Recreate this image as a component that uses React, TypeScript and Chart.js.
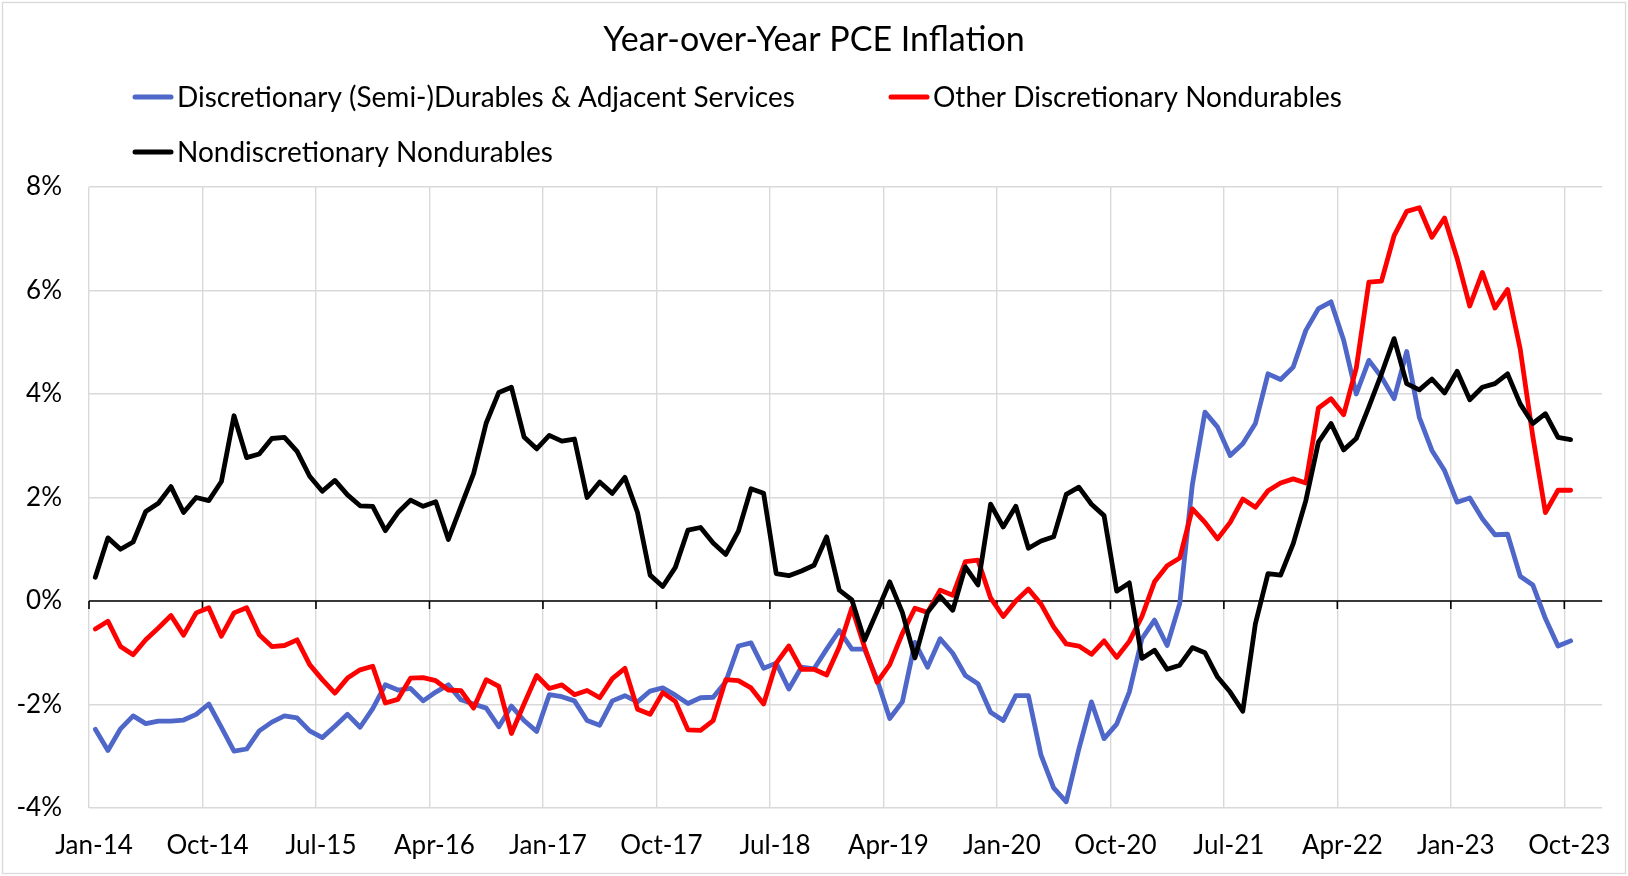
import React, { useEffect, useRef } from "react";
import { Chart, registerables } from "chart.js";

Chart.register(...registerables);

// monthly categories Jan-14 .. Oct-23
const monthNames = ["Jan", "Feb", "Mar", "Apr", "May", "Jun", "Jul", "Aug", "Sep", "Oct", "Nov", "Dec"];
const months: string[] = [];
for (let y = 14; y <= 23; y++) {
  for (let m = 0; m < 12; m++) {
    if (y === 23 && m > 9) break;
    months.push(`${monthNames[m]}-${y}`);
  }
}

const tickLabels = ["Jan-14", "Oct-14", "Jul-15", "Apr-16", "Jan-17", "Oct-17", "Jul-18", "Apr-19", "Jan-20", "Oct-20", "Jul-21", "Apr-22", "Jan-23", "Oct-23"];

const seriesNames = [
  "Discretionary (Semi-)Durables & Adjacent Services",
  "Other Discretionary Nondurables",
  "Nondiscretionary Nondurables",
];

const discDurables = [
  -2.48, -2.89, -2.47, -2.22, -2.37, -2.32, -2.32, -2.30, -2.19, -1.99, -2.44, -2.90,
  -2.86, -2.51, -2.34, -2.22, -2.26, -2.51, -2.64, -2.42, -2.19, -2.44, -2.08, -1.62,
  -1.72, -1.69, -1.93, -1.76, -1.62, -1.91, -1.99, -2.07, -2.43, -2.03, -2.31, -2.52,
  -1.81, -1.85, -1.93, -2.31, -2.40, -1.93, -1.83, -1.95, -1.74, -1.68, -1.82, -1.98,
  -1.87, -1.86, -1.56, -0.87, -0.81, -1.30, -1.20, -1.70, -1.28, -1.31, -0.93, -0.57,
  -0.93, -0.93, -1.52, -2.27, -1.95, -0.80, -1.28, -0.73, -1.01, -1.44, -1.60, -2.15,
  -2.31, -1.83, -1.83, -2.98, -3.61, -3.88, -2.86, -1.95, -2.66, -2.38, -1.76, -0.73,
  -0.37, -0.86, -0.05, 2.25, 3.65, 3.36, 2.81, 3.04, 3.43, 4.39, 4.28, 4.52,
  5.23, 5.65, 5.78, 5.04, 4.0, 4.65, 4.33, 3.91, 4.82, 3.55, 2.91, 2.52,
  1.91, 1.99, 1.59, 1.28, 1.29, 0.48, 0.31, -0.34, -0.87, -0.77,
];

const otherDisc = [
  -0.54, -0.39, -0.88, -1.04, -0.75, -0.52, -0.28, -0.66, -0.23, -0.13, -0.68, -0.23,
  -0.13, -0.65, -0.88, -0.86, -0.75, -1.23, -1.52, -1.78, -1.49, -1.33, -1.26, -1.97,
  -1.90, -1.49, -1.48, -1.54, -1.72, -1.73, -2.07, -1.52, -1.65, -2.56, -1.99, -1.44,
  -1.69, -1.62, -1.81, -1.73, -1.87, -1.50, -1.30, -2.09, -2.19, -1.77, -1.94, -2.49,
  -2.50, -2.31, -1.52, -1.54, -1.68, -1.99, -1.20, -0.87, -1.32, -1.32, -1.43, -0.89,
  -0.13, -0.89, -1.57, -1.23, -0.63, -0.14, -0.22, 0.21, 0.11, 0.76, 0.79, 0.06,
  -0.30, 0.0, 0.23, -0.06, -0.50, -0.83, -0.87, -1.03, -0.77, -1.09, -0.78, -0.30,
  0.37, 0.68, 0.83, 1.78, 1.52, 1.20, 1.52, 1.97, 1.81, 2.13, 2.28, 2.36,
  2.28, 3.73, 3.91, 3.60, 4.5, 6.16, 6.18, 7.06, 7.53, 7.60, 7.03, 7.40,
  6.62, 5.70, 6.35, 5.66, 6.02, 4.87, 3.18, 1.71, 2.14, 2.14,
];

const nondiscNondurables = [
  0.46, 1.22, 1.00, 1.14, 1.73, 1.89, 2.21, 1.71, 2.00, 1.94, 2.31, 3.58,
  2.77, 2.84, 3.14, 3.16, 2.89, 2.41, 2.12, 2.33, 2.05, 1.84, 1.83, 1.36,
  1.71, 1.95, 1.83, 1.92, 1.19, 1.83, 2.46, 3.44, 4.03, 4.13, 3.17, 2.94,
  3.20, 3.09, 3.13, 2.00, 2.30, 2.08, 2.39, 1.71, 0.50, 0.28, 0.65, 1.37,
  1.42, 1.12, 0.90, 1.35, 2.17, 2.08, 0.53, 0.49, 0.58, 0.69, 1.24, 0.21,
  0.02, -0.76, -0.20, 0.37, -0.22, -1.10, -0.22, 0.09, -0.18, 0.66, 0.31, 1.87,
  1.43, 1.83, 1.02, 1.16, 1.24, 2.06, 2.20, 1.87, 1.65, 0.19, 0.35, -1.11,
  -0.95, -1.32, -1.24, -0.90, -1.00, -1.47, -1.76, -2.13, -0.44, 0.53, 0.50, 1.11,
  1.94, 3.07, 3.43, 2.92, 3.14, 3.75, 4.39, 5.07, 4.20, 4.08, 4.29, 4.02,
  4.44, 3.89, 4.13, 4.20, 4.39, 3.81, 3.43, 3.62, 3.16, 3.12,
];

const colors = ["#4E67C8", "#FF0000", "#000000"];
const FONT = "Lato, 'Open Sans', sans-serif";

// points sit in the middle of each month
const toPoints = (vals: number[]) => vals.map((v, i) => ({ x: i + 0.5, y: v }));
const tickValues = tickLabels.map((l) => months.indexOf(l));

const decorPlugin = {
  id: "decor",
  beforeDraw(chart: Chart) {
    const { ctx, width, height } = chart;
    ctx.save();
    ctx.fillStyle = "#fff";
    ctx.fillRect(0, 0, width, height);
    ctx.strokeStyle = "#d9d9d9";
    ctx.lineWidth = 1.3;
    ctx.strokeRect(2.5, 2.5, width - 5, height - 5);
    ctx.restore();
  },
  beforeDatasetsDraw(chart: Chart) {
    const { ctx, scales, chartArea } = chart;
    const y0 = scales.y.getPixelForValue(0);
    ctx.save();
    ctx.strokeStyle = "#000";
    ctx.lineWidth = 1.6;
    ctx.beginPath();
    ctx.moveTo(chartArea.left, y0);
    ctx.lineTo(chartArea.right, y0);
    tickValues.forEach((v) => {
      const x = scales.x.getPixelForValue(v);
      ctx.moveTo(x, y0);
      ctx.lineTo(x, y0 + 8);
    });
    ctx.stroke();
    ctx.restore();
  },
  afterDraw(chart: Chart) {
    const { ctx } = chart;
    ctx.save();
    ctx.fillStyle = "#000";
    ctx.font = `34px ${FONT}`;
    ctx.textAlign = "center";
    ctx.textBaseline = "alphabetic";
    ctx.fillText("Year-over-Year PCE Inflation", 814, 51);

    const slots = [
      { x: 133, y: 97 },
      { x: 889, y: 97 },
      { x: 133, y: 152 },
    ];
    ctx.font = `28px ${FONT}`;
    ctx.textAlign = "left";
    chart.data.datasets.forEach((ds, i) => {
      const s = slots[i];
      ctx.strokeStyle = ds.borderColor as string;
      ctx.lineWidth = 5;
      ctx.lineCap = "round";
      ctx.beginPath();
      ctx.moveTo(s.x + 2, s.y);
      ctx.lineTo(s.x + 38, s.y);
      ctx.stroke();
      ctx.fillText(ds.label as string, s.x + 44, s.y + 9.5);
    });
    ctx.restore();
  },
};

export default function App() {
  const canvasRef = useRef<HTMLCanvasElement | null>(null);

  useEffect(() => {
    document.body.style.margin = "0";
    let chart: Chart | null = null;
    let cancelled = false;

    const build = () => {
      if (cancelled || !canvasRef.current) return;
      const series = [discDurables, otherDisc, nondiscNondurables];
      chart = new Chart(canvasRef.current, {
        type: "line",
        data: {
          datasets: series.map((vals, i) => ({
            label: seriesNames[i],
            data: toPoints(vals),
            borderColor: colors[i],
            backgroundColor: colors[i],
            borderWidth: 4.8,
            pointRadius: 0,
            tension: 0,
            borderJoinStyle: "round" as const,
            borderCapStyle: "round" as const,
            order: 3 - i,
          })),
        },
        options: {
          animation: false,
          responsive: false,
          maintainAspectRatio: false,
          layout: { padding: { top: 187, right: 23, bottom: 0, left: 0 } },
          plugins: {
            legend: { display: false },
            title: { display: false },
            tooltip: { enabled: false },
          },
          scales: {
            x: {
              type: "linear",
              min: 0,
              max: 120,
              afterBuildTicks: (scale: any) => {
                scale.ticks = tickValues.map((v) => ({ value: v }));
              },
              afterFit: (scale: any) => {
                scale.height = 68;
              },
              ticks: {
                autoSkip: false,
                maxRotation: 0,
                padding: 22,
                labelOffset: 5,
                color: "#000",
                font: { family: FONT, size: 26 },
                callback: (v: any) => months[v as number],
              },
              grid: { color: "#d9d9d9", lineWidth: 1.4, drawTicks: false },
              border: { display: false },
            },
            y: {
              min: -4,
              max: 8,
              afterFit: (scale: any) => {
                scale.width = 89;
              },
              ticks: {
                stepSize: 2,
                padding: 27,
                color: "#000",
                font: { family: FONT, size: 26 },
                callback: (v: any) => `${v}%`,
              },
              grid: { color: "#d9d9d9", lineWidth: 1.4, drawTicks: false },
              border: { display: false },
            },
          },
        },
        plugins: [decorPlugin],
      });
    };

    if (document.fonts && document.fonts.load) {
      document.fonts.load(`28px Lato`).then(build, build);
    } else {
      build();
    }

    return () => {
      cancelled = true;
      if (chart) chart.destroy();
    };
  }, []);

  return <canvas ref={canvasRef} width={1628} height={876} style={{ display: "block" }} />;
}
